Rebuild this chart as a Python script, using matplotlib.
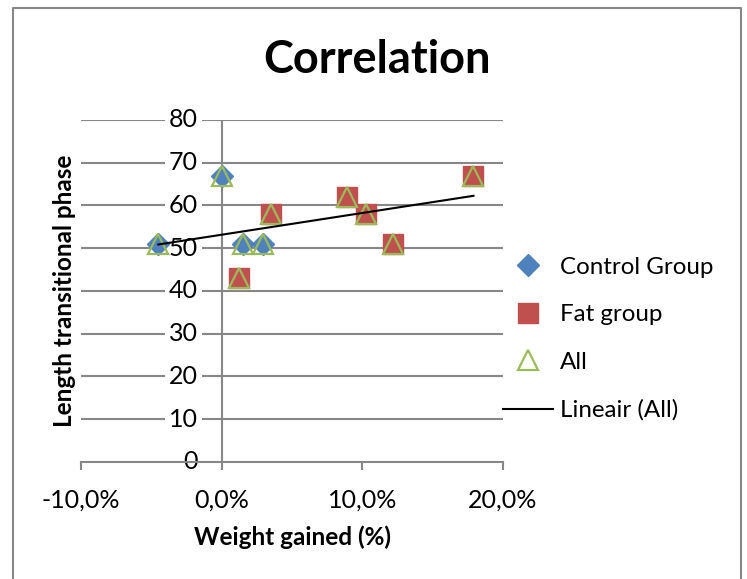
import numpy as np
import matplotlib.pyplot as plt
from matplotlib.lines import Line2D

# weight gained (%) and length of transitional phase
control_x = [-4.5, 0.0, 1.55, 2.95]
control_y = [51, 67, 51, 51]
fat_x = [1.2, 3.5, 8.9, 10.25, 12.15, 17.9]
fat_y = [43, 58, 62, 58, 51, 67]

y_ticks = [0, 10, 20, 30, 40, 50, 60, 70, 80]
x_ticks = [-10, 0, 10, 20]
x_tick_labels = ["-10,0%", "0,0%", "10,0%", "20,0%"]

plt.rcParams['font.family'] = ['Lato', 'DejaVu Sans']

grey = '#878787'
blue = '#4F81BD'
red = '#C0504D'
green = '#9BBB59'

fig = plt.figure(figsize=(7.47, 5.79), dpi=100)
ax = fig.add_axes([0.1084, 0.2021, 0.565, 0.5907])

all_x = control_x + fat_x
all_y = control_y + fat_y

# series
ax.plot(control_x, control_y, 'D', color=blue, markersize=11, label='Control Group', zorder=3)
ax.plot(fat_x, fat_y, 's', color=red, markersize=14, label='Fat group', zorder=3)
ax.plot(all_x, all_y, '^', markerfacecolor='none', markeredgecolor=green,
        markeredgewidth=1.6, markersize=15, label='All', zorder=4)

# linear trend over all points
k, m = np.polyfit(all_x, all_y, 1)
tx = np.array([min(all_x), max(all_x)])
ax.plot(tx, k * tx + m, color='black', lw=1.5, label='Lineair (All)', zorder=5)

ax.set_xlim(-10, 20)
ax.set_ylim(0, 80)
ax.set_xticks(x_ticks)
ax.set_xticklabels(x_tick_labels, fontsize=18)
ax.set_yticks(y_ticks)
ax.set_yticklabels([])
ax.tick_params(axis='y', length=0)
ax.tick_params(axis='x', direction='out', length=6, width=1.5, color=grey, pad=13)

# gridlines and the y axis sitting at x = 0
for v in y_ticks[1:]:
    ax.axhline(v, color=grey, lw=1.5, zorder=1)
ax.axvline(0, color=grey, lw=1.5, zorder=1)
for s in ['top', 'right', 'left']:
    ax.spines[s].set_visible(False)
ax.spines['bottom'].set_color(grey)
ax.spines['bottom'].set_linewidth(1.5)

for v in y_ticks:
    ax.annotate(str(v), (0, v), xytext=(-17, 0), textcoords='offset points',
                ha='right', va='center', fontsize=18, zorder=2,
                bbox=dict(boxstyle='square,pad=0.15', fc='white', ec='none'))

ax.set_xlabel('Weight gained (%)', fontsize=17.5, fontweight='bold', labelpad=10)
ax.set_ylabel('Length transitional phase', fontsize=17.5, fontweight='bold')
ax.yaxis.set_label_coords(-0.012, 0.5)

fig.text(0.505, 0.896, 'Correlation', ha='center', va='center', fontsize=32.5, fontweight='bold')

ax.legend(loc='center left', bbox_to_anchor=(1.0, 0.36), frameon=False, fontsize=17.4,
          handlelength=2.07, labelspacing=1.1, borderaxespad=0, borderpad=0,
          handletextpad=0.29)

# outer chart border (left, top, right)
fig.add_artist(Line2D([0.0174, 0.0174, 0.992, 0.992], [0.0, 0.986, 0.986, 0.0],
                      transform=fig.transFigure, color=grey, lw=1.5))

fig.savefig('out.png', dpi=100)
